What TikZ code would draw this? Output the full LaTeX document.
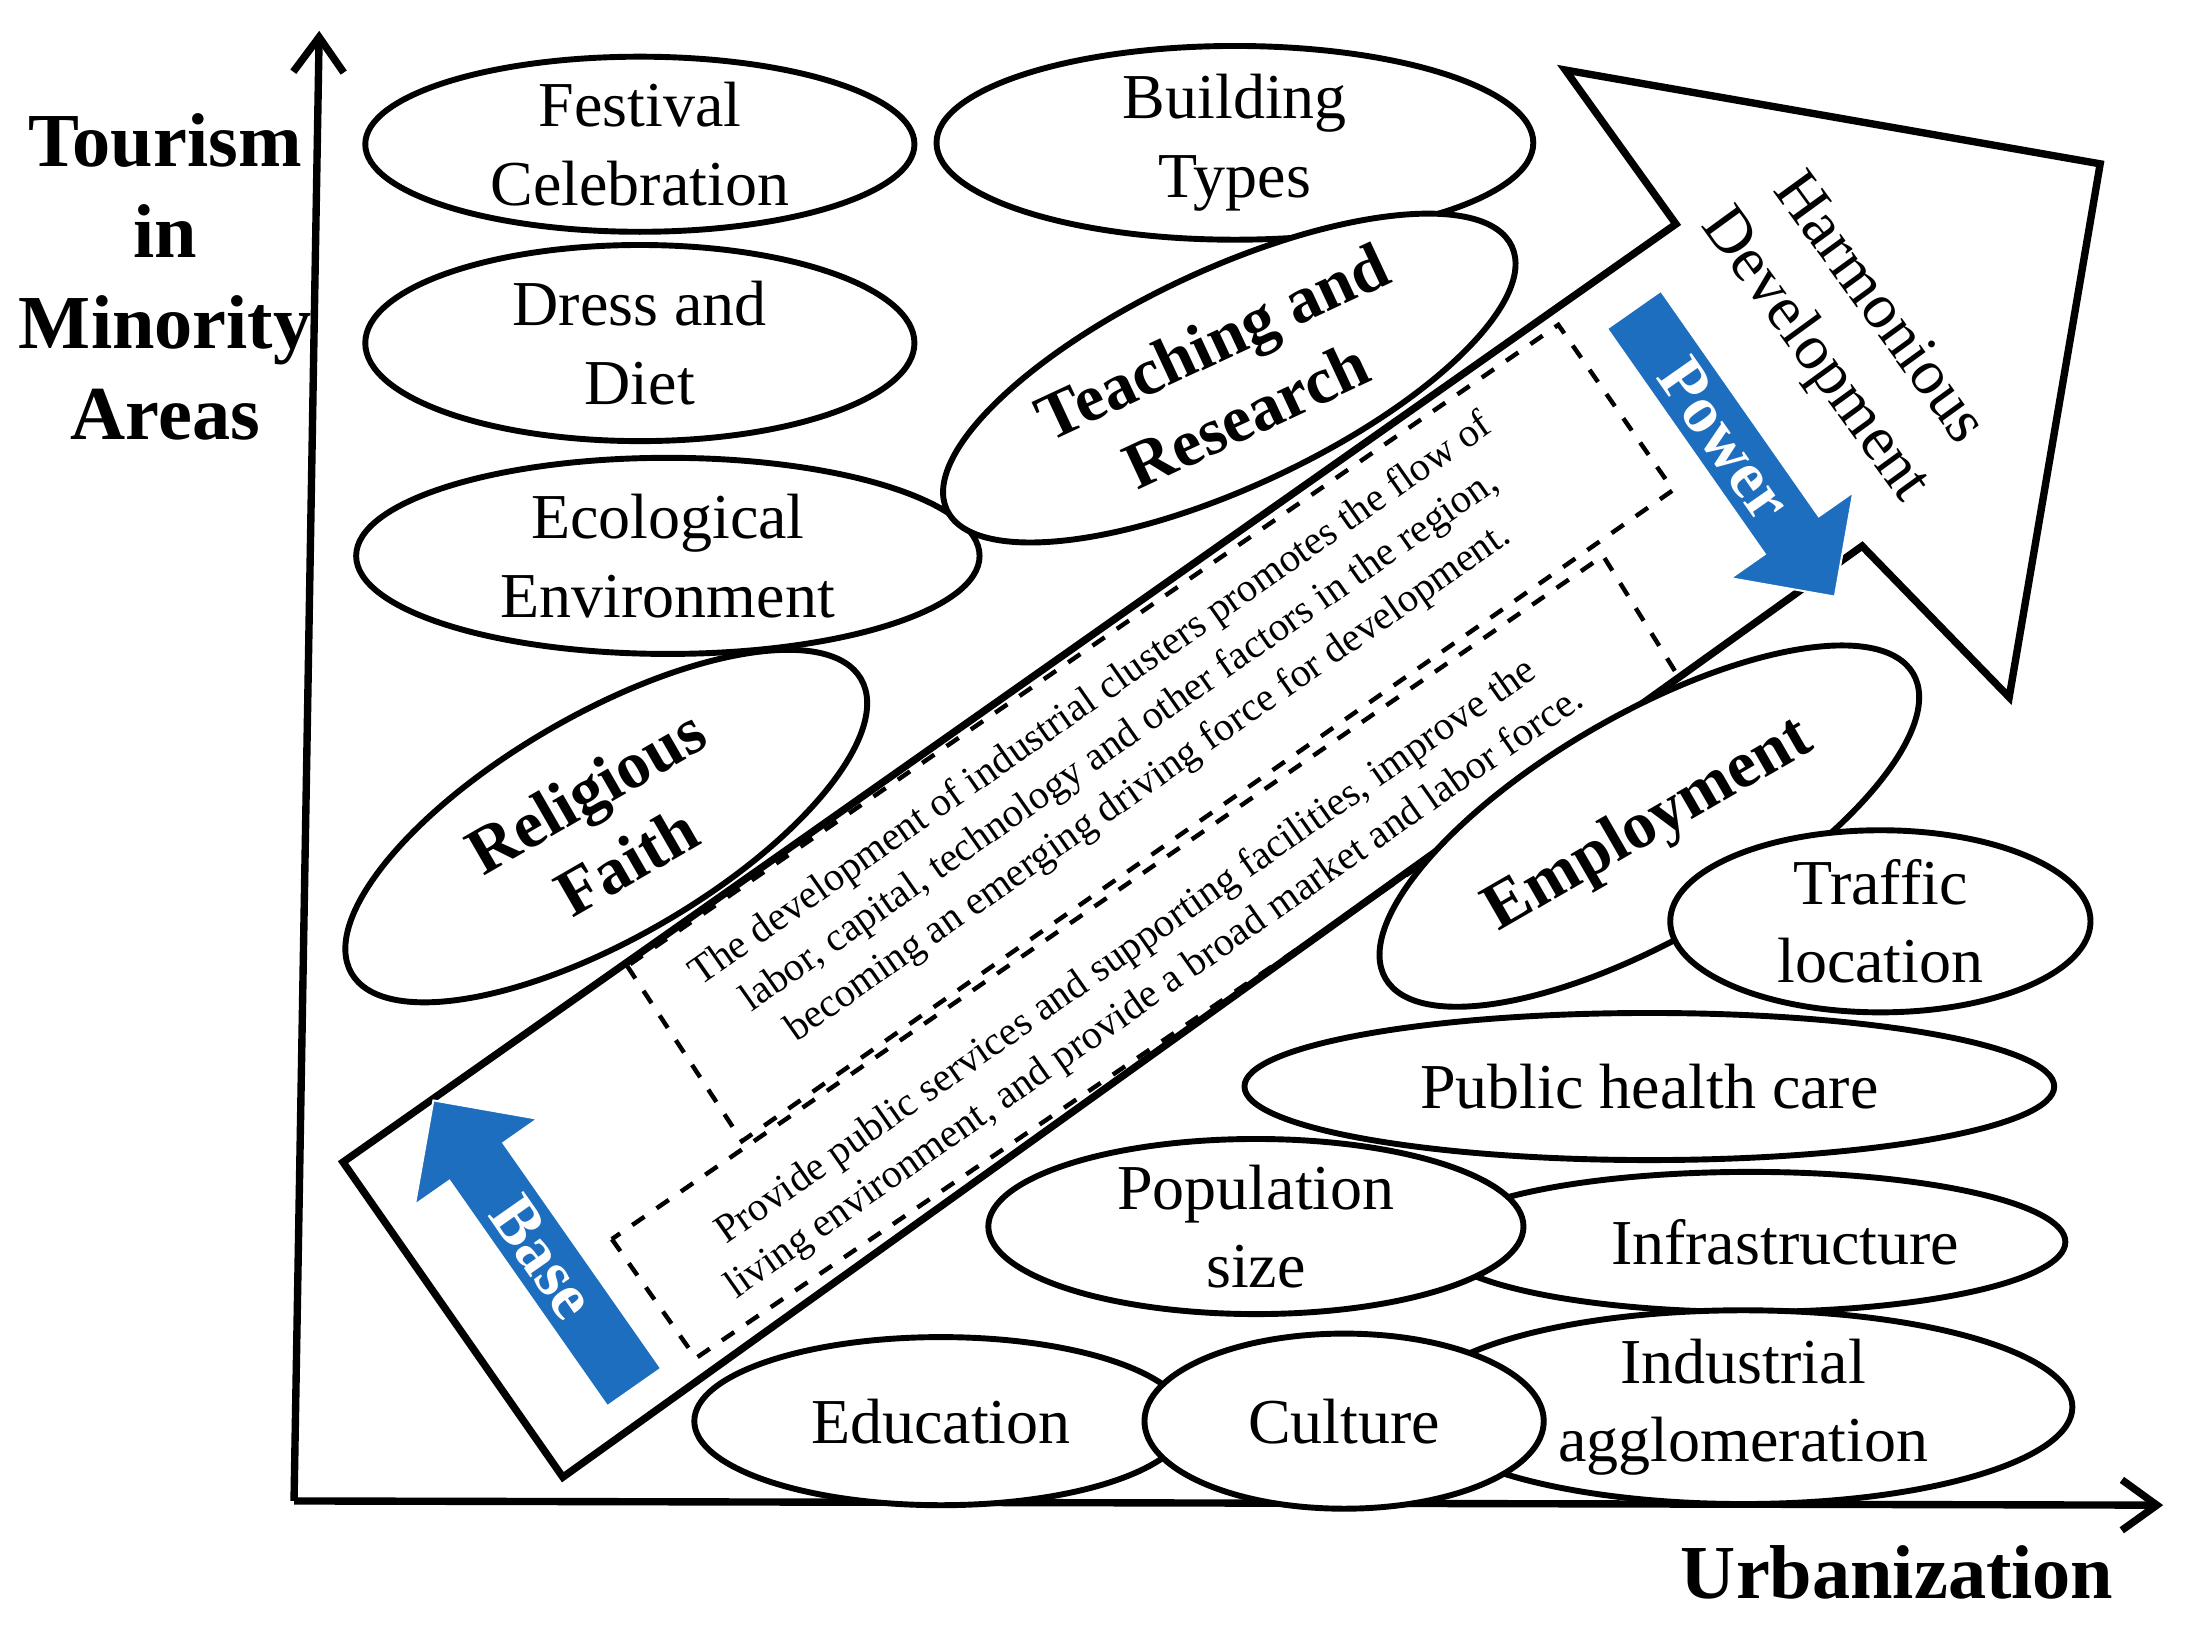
\documentclass[tikz,border=0pt]{standalone}
\usepackage{fontspec}
\setmainfont{Liberation Serif}
\usetikzlibrary{shapes.geometric,shapes.arrows,arrows.meta}
\definecolor{ablue}{RGB}{30,110,192}
\begin{document}
\begin{tikzpicture}[x=0.01cm,y=-0.01cm,
  el/.style={ellipse,draw,line width=1.2pt,fill=white,align=center,inner sep=0pt,font=\fontsize{13}{16}\selectfont},
  bel/.style={el,font=\fontsize{13.5}{16.5}\selectfont\bfseries},
  dbox/.style={draw,dashed,line width=0.9pt},
  btxt/.style={align=center,font=\fontsize{8.2}{10.2}\selectfont},
  barrow/.style={single arrow,draw=white,fill=ablue,text=white,font=\fontsize{13.5}{16}\selectfont\bfseries,single arrow head extend=0.3cm,minimum width=0.8cm,minimum height=2.5cm,inner sep=2pt},
  ax/.style={line width=1.5pt,-{Straight Barb[length=0.25cm,width=0.36cm]}}]
\useasboundingbox (0,0) rectangle (1562,1162);
% axes
\coordinate (O) at (210,1072);
\coordinate (Y) at (228,22);
\coordinate (X) at (1545,1075);
\draw[ax] (O) -- (Y);
\draw[ax] (O) -- (X);
\node[font=\fontsize{15.5}{18.5}\selectfont\bfseries,align=center] (ylab) at (118,198) {Tourism\\in\\Minority\\Areas};
\node[font=\fontsize{15.5}{18.5}\selectfont\bfseries] (xlab) at (1355,1123) {Urbanization};
% big arrow
\draw[line width=1.5pt,fill=white] (245,830) -- (1197,160) -- (1118,50) -- (1500,117) -- (1435,498) -- (1330,390) -- (402,1055) -- cycle;
\node[rotate=-54,align=center,font=\fontsize{13}{16}\selectfont] (hd) at (1318,238) {Harmonious\\Development};
% ellipses
\node[el,minimum width=3.92cm,minimum height=1.25cm] (fc) at (457,103) {Festival\\Celebration};
\node[el,minimum width=4.26cm,minimum height=1.25cm] (bt) at (882,102) {Building\\Types};
\node[el,minimum width=3.92cm,minimum height=1.4cm] (dd) at (457,245) {Dress and\\Diet};
\node[el,minimum width=4.45cm,minimum height=1.4cm] (ee) at (477,397) {Ecological\\Environment};
\node[bel,rotate=25,minimum width=4.45cm,minimum height=1.55cm] (tr) at (878,270) {Teaching and\\Research};
\node[bel,rotate=30,minimum width=4.2cm,minimum height=1.6cm] (rf) at (433,590) {Religious\\Faith};
% dashed boxes
\draw[dbox] (448,690) -- (530,815) -- (1195,350) -- (1113,232) -- cycle;
\draw[dbox] (437,885) -- (497,970) -- (1203,490) -- (1145,397) -- cycle;
\node[btxt,rotate=35] (t1) at (800,530) {The development of industrial clusters promotes the flow of\\labor, capital, technology and other factors in the region,\\becoming an emerging driving force for development.};
\node[btxt,rotate=35] (t2) at (815,695) {Provide public services and supporting facilities, improve the\\living environment, and provide a broad market and labor force.};
% blue arrows
\node[barrow,rotate=-55] (pw) at (1232,314) {Power};
\node[barrow,rotate=-55,shape border rotate=180] (bs) at (388,898) {Base};
% lower ellipses
\node[bel,rotate=30,minimum width=4.35cm,minimum height=1.6cm] (em) at (1178,590) {Employment};
\node[el,minimum width=3.0cm,minimum height=1.3cm] (tl) at (1343,658) {Traffic\\location};
\node[el,minimum width=5.78cm,minimum height=1.05cm] (ph) at (1178,776) {Public health care};
\node[el,minimum width=4.5cm,minimum height=1.0cm] (inf) at (1250,887) {\hspace*{0.5cm}Infrastructure};
\node[el,minimum width=3.82cm,minimum height=1.23cm] (ps) at (897,876) {Population\\size};
\node[el,minimum width=4.7cm,minimum height=1.25cm] (ia) at (1245,1005) {Industrial\\agglomeration};
\node[el,minimum width=3.52cm,minimum height=1.2cm] (ed) at (672,1015) {Education};
\node[el,minimum width=2.85cm,minimum height=1.25cm] (cu) at (960,1015) {Culture};
\end{tikzpicture}
\end{document}
